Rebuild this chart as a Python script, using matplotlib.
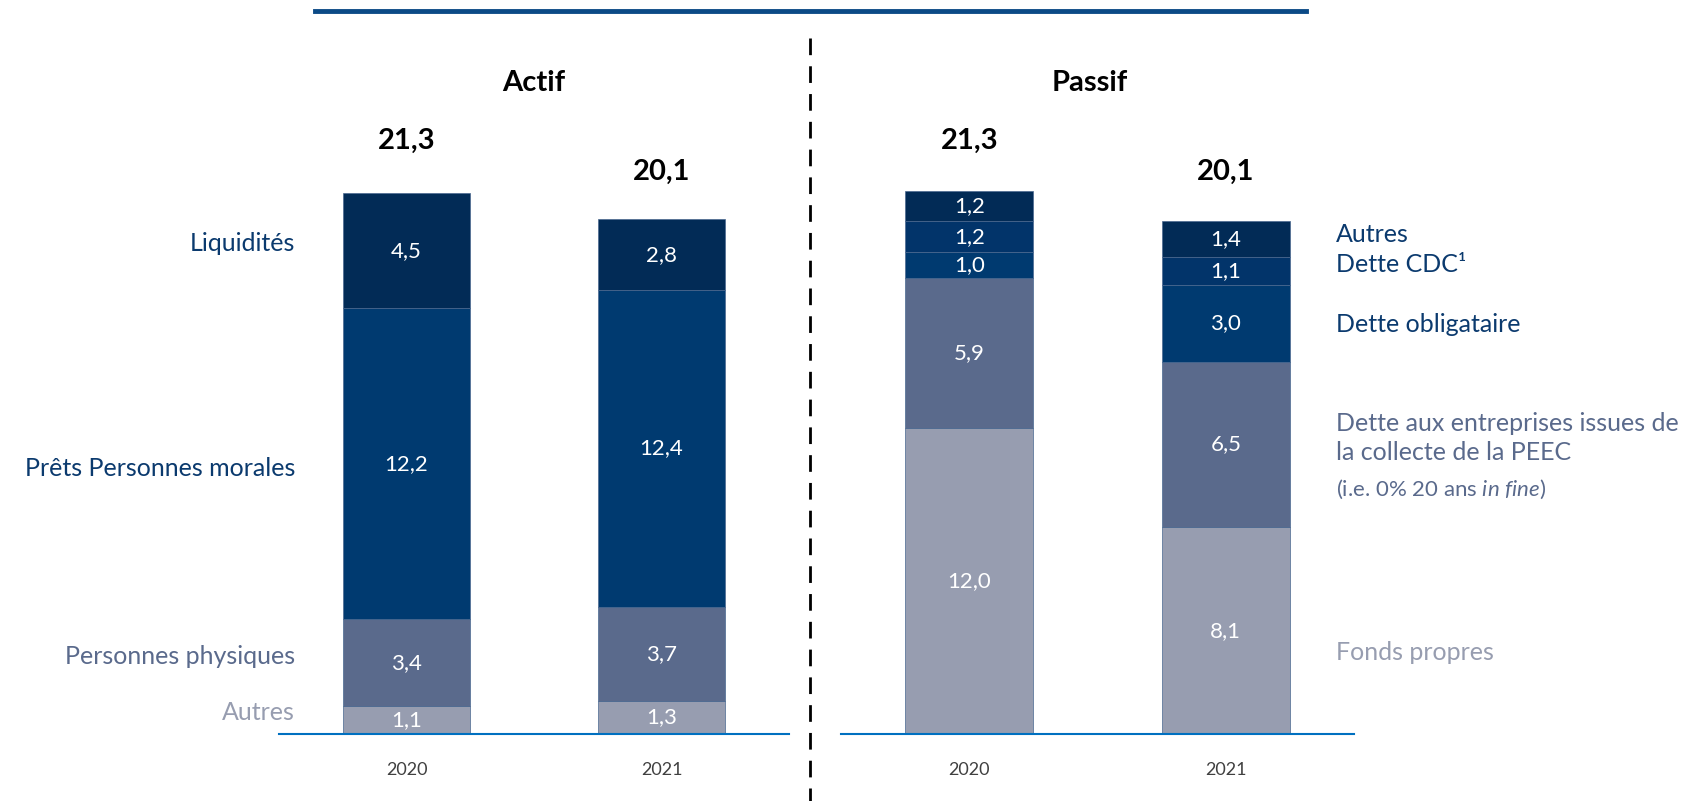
import matplotlib.pyplot as plt
import numpy as np

plt.rcParams['font.family'] = ['Lato', 'DejaVu Sans']
plt.rcParams['mathtext.fontset'] = 'custom'
plt.rcParams['mathtext.rm'] = 'Lato'
plt.rcParams['mathtext.it'] = 'Lato:italic'

# données (Md€)
annees = ['2020', '2021']

actif_noms = ['Autres', 'Personnes physiques', 'Prêts Personnes morales', 'Liquidités']
actif_vals = [[1.1, 1.3], [3.4, 3.7], [12.2, 12.4], [4.5, 2.8]]
actif_totaux = [21.3, 20.1]

passif_noms = ['Fonds propres', 'Dette aux entreprises issues de\nla collecte de la PEEC',
               'Dette obligataire', 'Dette CDC¹', 'Autres']
passif_vals = [[12.0, 8.1], [5.9, 6.5], [1.0, 3.0], [1.2, 1.1], [1.2, 1.4]]
passif_totaux = [21.3, 20.1]

# couleurs
c_autres = '#979DB0'
c_phys = '#5A6A8C'
c_prets = '#003A70'
c_cdc = '#02346A'
c_fonce = '#022B56'
actif_couleurs = [c_autres, c_phys, c_prets, c_fonce]
passif_couleurs = [c_autres, c_phys, c_prets, c_cdc, c_fonce]

W, H = 1693, 801
fig = plt.figure(figsize=(W / 100, H / 100), dpi=100)

base_px = 734
top_px = 100
px_unit = 25.5
ymax = (base_px - top_px) / px_unit


def faire_axe(x0, x1):
    ax = fig.add_axes([x0 / W, (H - base_px) / H, (x1 - x0) / W, (base_px - top_px) / H])
    ax.set_xlim(-0.5, 1.5)
    ax.set_ylim(0, ymax)
    for s in ['top', 'right', 'left']:
        ax.spines[s].set_visible(False)
    ax.spines['bottom'].set_color('#0070C0')
    ax.spines['bottom'].set_linewidth(1.5)
    ax.set_yticks([])
    ax.set_xticks([0, 1])
    ax.set_xticklabels(annees, fontsize=13, color='#404040')
    ax.tick_params(axis='x', length=0, pad=20)
    return ax


def empiler(ax, vals, couleurs, totaux):
    x = np.arange(len(annees))
    bas = np.zeros(len(annees))
    for v, c in zip(vals, couleurs):
        v = np.array(v)
        ax.bar(x, v, bottom=bas, width=0.5, color=c, edgecolor='#4A6890', linewidth=0.5, zorder=2)
        for xi, b, vi in zip(x, bas, v):
            ax.text(xi, b + vi / 2, f'{vi:.1f}'.replace('.', ','), ha='center', va='center',
                    color='white', fontsize=16, zorder=3)
        bas = bas + v
    for xi, t in zip(x, totaux):
        ax.text(xi, t + 1.96, f'{t:.1f}'.replace('.', ','), ha='center', va='center',
                fontsize=21, fontweight='bold', color='black')


ax1 = faire_axe(279, 789)
empiler(ax1, actif_vals, actif_couleurs, actif_totaux)
ax2 = faire_axe(841, 1354)
empiler(ax2, passif_vals, passif_couleurs, passif_totaux)

# titres
fig.text(534 / W, 1 - 83 / H, 'Actif', ha='center', va='center', fontsize=21, fontweight='bold')
fig.text(1090 / W, 1 - 83 / H, 'Passif', ha='center', va='center', fontsize=21, fontweight='bold')

# libellés actif (à gauche)
lab_col = '#0B3A6E'
gauche = [(actif_noms[3], 243, lab_col), (actif_noms[2], 468, lab_col),
          (actif_noms[1], 656, c_phys), (actif_noms[0], 712, c_autres)]
for txt, y, c in gauche:
    fig.text(295 / W, 1 - y / H, txt, ha='right', va='center', fontsize=18, color=c)

# libellés passif (à droite)
droite = [(passif_noms[4], 235, lab_col), (passif_noms[3], 265, lab_col),
          (passif_noms[2], 325, lab_col), (passif_noms[0], 653, c_autres)]
for txt, y, c in droite:
    fig.text(1336 / W, 1 - y / H, txt, ha='left', va='center', fontsize=18, color=c)
fig.text(1336 / W, 1 - 438 / H, passif_noms[1], ha='left', va='center', fontsize=18,
         color=c_phys, linespacing=1.3)
fig.text(1336 / W, 1 - 489 / H, '(i.e. 0% 20 ans $\\it{in\\ fine}$)', ha='left', va='center',
         fontsize=16, color=c_phys)

# ligne du haut et séparateur
fig.add_artist(plt.Line2D([315 / W, 1306 / W], [1 - 11 / H, 1 - 11 / H], color='#0B4A86', lw=3.5))
fig.add_artist(plt.Line2D([810 / W, 810 / W], [1 - 38 / H, 0], color='black', lw=2,
                          linestyle=(0, (6, 4))))

fig.savefig('out.png', dpi=100)
